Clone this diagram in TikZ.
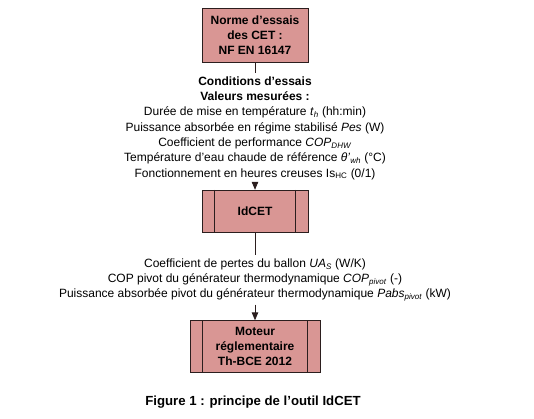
\documentclass[tikz,border=0pt]{standalone}
\usepackage{fontspec}
\setmainfont{Liberation Sans}
\usetikzlibrary{arrows.meta}
\definecolor{boxfill}{HTML}{D99694}
\definecolor{edge}{HTML}{2B1E1E}
\tikzset{
  box/.style={draw=edge, fill=boxfill, line width=0.9pt, align=center, inner sep=0pt,
    font=\bfseries\fontsize{12}{15}\selectfont},
  info/.style={align=center, inner xsep=0pt, inner ysep=3pt, font=\fontsize{12}{15.3}\selectfont},
  conn/.style={draw=edge, line width=0.9pt},
  arr/.style={conn, -{Triangle[length=8pt,width=6.5pt]}},
  sidebar/.style={draw=edge, line width=0.9pt}
}
\begin{document}
\begin{tikzpicture}[x=1pt,y=-1pt]
\useasboundingbox (0,0) rectangle (534,419);
\node[box, minimum width=106pt, minimum height=54pt] (norme) at (255,35)
  {Norme d'essais\\des CET :\\NF EN 16147};
\node[info] (cond) at (255,128)
  {\textbf{Conditions d'essais}\\
   \textbf{Valeurs mesurées :}\\
   Durée de mise en température \textit{t}\textsubscript{\textit{h}} (hh:min)\\
   Puissance absorbée en régime stabilisé \textit{Pes} (W)\\
   Coefficient de performance \textit{COP}\textsubscript{\textit{DHW}}\\
   Température d'eau chaude de référence \textit{θ'}\textsubscript{\textit{wh}} (°C)\\
   Fonctionnement en heures creuses Is\textsubscript{HC} (0/1)};
\node[box, minimum width=106pt, minimum height=42.5pt] (idcet) at (255,211.5) {IdCET};
\node[info] (param) at (255,280)
  {Coefficient de pertes du ballon \textit{UA}\textsubscript{\textit{S}} (W/K)\\
   COP pivot du générateur thermodynamique \textit{COP}\textsubscript{\textit{pivot}} (-)\\
   Puissance absorbée pivot du générateur thermodynamique \textit{Pabs}\textsubscript{\textit{pivot}} (kW)};
\node[box, minimum width=130pt, minimum height=51.5pt] (moteur) at (255,346.5)
  {Moteur\\réglementaire\\Th-BCE 2012};
\node[font=\bfseries\fontsize{13.2}{15}\selectfont, inner sep=0pt] (caption) at (253,402)
  {Figure 1 : principe de l’outil IdCET};
\foreach \n in {idcet,moteur}{
  \draw[sidebar] ([xshift=13pt]\n.north west) -- ([xshift=13pt]\n.south west);
  \draw[sidebar] ([xshift=-13pt]\n.north east) -- ([xshift=-13pt]\n.south east);
}
\draw[conn] (norme.south) -- (cond.north);
\draw[arr] (cond.south) -- (idcet.north);
\draw[conn] (idcet.south) -- (param.north);
\draw[arr] (param.south) -- (moteur.north);
\end{tikzpicture}
\end{document}
